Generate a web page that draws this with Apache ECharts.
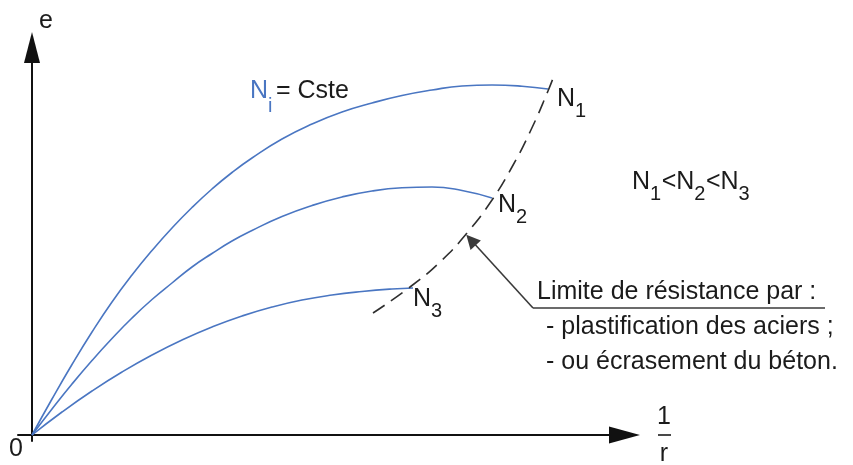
<!DOCTYPE html>
<html>
<head>
<meta charset="utf-8">
<script src="https://cdn.jsdelivr.net/npm/echarts@6/dist/echarts.min.js"></script>
<style>
  html, body { margin: 0; padding: 0; background: #ffffff; }
  #chart { width: 853px; height: 465px; }
</style>
</head>
<body>
<div id="chart"></div>
<script>
// e = f(1/r) curves at constant axial force, one per N level [1/r, e]
const curveN1 = [[0, 0], [2, 3.6], [4, 7.05], [6, 10.3], [8, 13.3], [10, 16.0], [12, 18.45], [14, 20.7],
  [16, 22.75], [18, 24.6], [20, 26.25], [22, 27.7], [25, 29.6], [28, 31.1], [31, 32.3], [34, 33.2],
  [37, 33.95], [40, 34.5], [43, 34.9], [46, 35.0], [49, 34.88], [51.6, 34.6]];
const curveN2 = [[0, 0], [2, 2.6], [4, 5.1], [6, 7.45], [8, 9.65], [10, 11.7], [12, 13.55], [14, 15.2],
  [16, 16.8], [18, 18.15], [20, 19.4], [22, 20.45], [25, 21.85], [28, 22.95], [31, 23.8], [34, 24.4],
  [37, 24.72], [40, 24.8], [43, 24.45], [46, 23.7]];
const curveN3 = [[0, 0], [3, 2.3], [6, 4.4], [9, 6.3], [12, 8.0], [15, 9.5], [18, 10.8], [21, 11.9],
  [24, 12.8], [27, 13.5], [30, 14.0], [33, 14.35], [36, 14.6], [38.1, 14.7]];

// Resistance limit joining the end points of the curves
const limitCurve = [[34.1, 12.2], [37.8, 14.8], [40.8, 17.3], [43.5, 20.2], [46.0, 23.5],
  [48.0, 26.8], [49.8, 30.3], [51.6, 34.4], [52.3, 36.2]];

// Leader of the annotation: underline, then the pointer towards the limit curve
const leaderUnderline = [[79.3, 12.7], [50.1, 12.7]];
const leaderPointer = [[50.1, 12.7], [43.9, 19.5]];

// Text content
const axisNameY = 'e';
const axisOrigin = '0';
const axisNameXNum = '1';
const axisNameXDen = 'r';
const curveNames = ['N1', 'N2', 'N3'];
const annotationLines = ['Limite de résistance par :', '- plastification des aciers ;', '- ou écrasement du béton.'];

const FONT = '"Liberation Sans", Arial, Helvetica, sans-serif';
const INK = '#1b1b1b';
const BLUE = '#4a76c2';
const MAIN = 25, SUB = 20, SUB_DY = 12;

const measureCtx = document.createElement('canvas').getContext('2d');
function textWidth(str, size) {
  measureCtx.font = size + 'px ' + FONT;
  return measureCtx.measureText(str).width;
}
function txt(str, x, y, size, color, align) {
  return {
    type: 'text', x: x, y: y, silent: true,
    style: { text: str, fontSize: size, fontFamily: FONT, fill: color, align: align || 'left', verticalAlign: 'middle' }
  };
}
// Text made of pieces, some of them set as subscripts
function subscripted(parts, left, y, colors, subDy) {
  const out = [];
  let x = left;
  parts.forEach(function (p, i) {
    const isSub = p[1];
    const size = isSub ? SUB : MAIN;
    const col = colors ? colors[i] : INK;
    out.push(txt(p[0], x, isSub ? y + (subDy || SUB_DY) : y, size, col));
    x += textWidth(p[0], size) + (isSub ? 0.5 : 0);
  });
  return out;
}

const graphics = [].concat(
  [txt(axisNameY, 46, 21, MAIN, INK, 'center')],
  [txt(axisOrigin, 16, 449, MAIN, INK, 'center')],
  [txt(axisNameXNum, 664, 417, MAIN, INK, 'center')],
  [{ type: 'line', silent: true, shape: { x1: 658, y1: 435, x2: 671, y2: 435 }, style: { stroke: INK, lineWidth: 1.6 } }],
  [txt(axisNameXDen, 664, 454, MAIN, INK, 'center')],
  subscripted([['N', false], ['i', true]], 250, 91, [BLUE, BLUE], 15),
  [txt('= Cste', 276, 91, MAIN, INK)],
  subscripted([[curveNames[0][0], false], [curveNames[0][1], true]], 557, 99),
  subscripted([[curveNames[1][0], false], [curveNames[1][1], true]], 498, 205),
  subscripted([[curveNames[2][0], false], [curveNames[2][1], true]], 413, 299),
  subscripted([['N', false], ['1', true], ['<N', false], ['2', true], ['<N', false], ['3', true]], 632, 182),
  [txt(annotationLines[0], 537, 292, MAIN, INK)],
  [txt(annotationLines[1], 546, 327, MAIN, INK)],
  [txt(annotationLines[2], 546, 362, MAIN, INK)]
);

function curveSeries(name, data) {
  return {
    name: name, type: 'line', data: data, smooth: 0.5, showSymbol: false, symbol: 'none',
    lineStyle: { color: BLUE, width: 1.6 }, silent: true, clip: false, z: 3
  };
}

const chart = echarts.init(document.getElementById('chart'), null, { renderer: 'canvas' });
chart.setOption({
  animation: false,
  backgroundColor: '#ffffff',
  grid: { left: 18, right: 228.5, top: 47.5, bottom: 24, containLabel: false },
  xAxis: {
    type: 'value', min: -1.4, max: 59.25,
    axisLine: {
      show: true, onZero: true,
      symbol: ['none', 'triangle'], symbolSize: [17, 31],
      lineStyle: { color: '#111111', width: 2 }
    },
    axisTick: { show: false }, axisLabel: { show: false }, splitLine: { show: false }
  },
  yAxis: {
    type: 'value', min: -0.6, max: 38.75,
    axisLine: {
      show: true, onZero: true,
      symbol: ['none', 'triangle'], symbolSize: [16, 31],
      lineStyle: { color: '#111111', width: 2 }
    },
    axisTick: { show: false }, axisLabel: { show: false }, splitLine: { show: false }
  },
  series: [
    curveSeries('N1', curveN1),
    curveSeries('N2', curveN2),
    curveSeries('N3', curveN3),
    {
      name: 'limite', type: 'line', data: limitCurve, smooth: 0.5, showSymbol: false, symbol: 'none',
      lineStyle: { color: '#2e2e2e', width: 1.6, type: [14, 8] }, silent: true, clip: false, z: 4
    },
    {
      type: 'lines', coordinateSystem: 'cartesian2d', clip: false, silent: true, z: 5,
      symbol: 'none',
      lineStyle: { color: '#3a3a3a', width: 1.6, opacity: 1, curveness: 0 },
      data: [{ coords: leaderUnderline }]
    },
    {
      type: 'lines', coordinateSystem: 'cartesian2d', clip: false, silent: true, z: 5,
      symbol: ['none', 'triangle'], symbolSize: 14,
      lineStyle: { color: '#3a3a3a', width: 1.6, opacity: 1, curveness: 0 },
      data: [{ coords: leaderPointer }]
    }
  ],
  graphic: graphics
});
</script>
</body>
</html>
